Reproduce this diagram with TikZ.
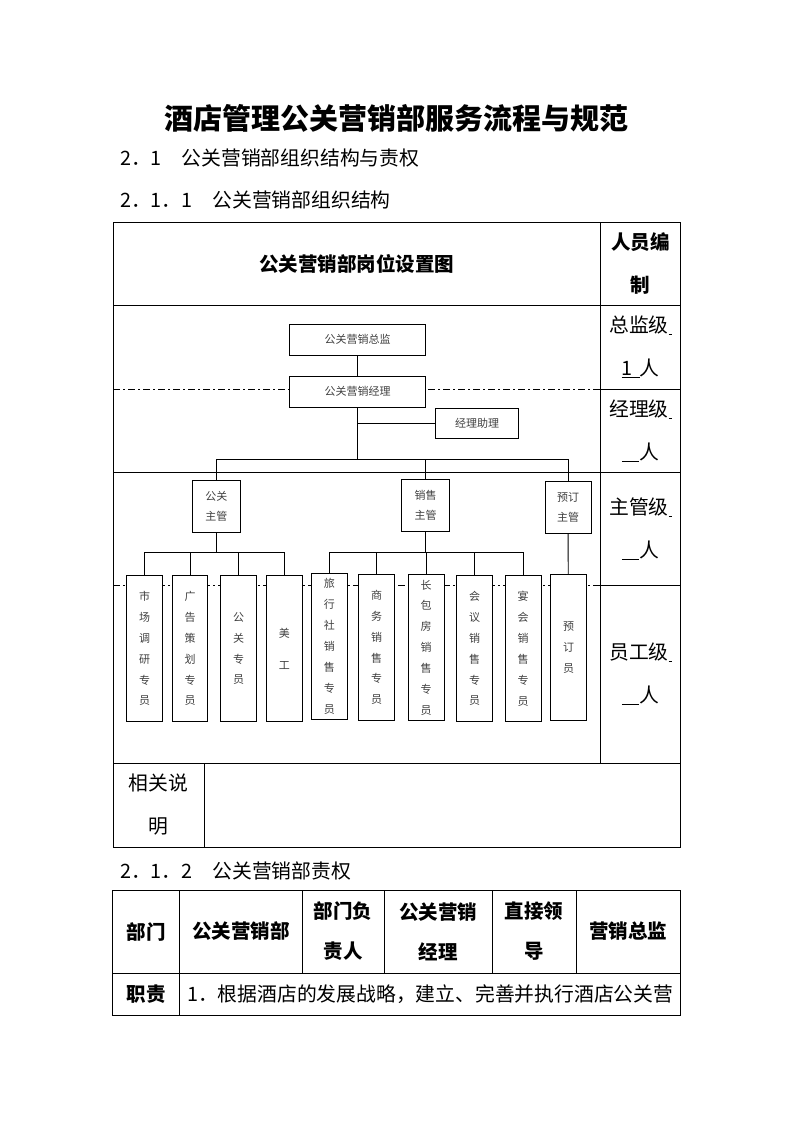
\documentclass[tikz,border=0pt]{standalone}
\usepackage{fontspec}
\setmainfont{Noto Sans CJK SC}

\begin{document}
\begin{tikzpicture}[x=1pt, y=-1pt]
    \tikzstyle{tableline} = [line width=1pt]
    \tikzstyle{levelline} = [line width=0.9pt, dash pattern=on 7pt off 3pt on 2pt off 3pt]
    \tikzstyle{line} = [line width=0.9pt]
    \tikzstyle{chartbox} = [rectangle, draw, fill=white, line width=0.9pt, inner sep=0pt, align=center, text=black!75, font=\fontsize{11}{20}\selectfont]
    \tikzstyle{staffbox} = [chartbox, minimum width=35.5pt, minimum height=146pt, font=\fontsize{11}{20.9}\selectfont]
    \tikzstyle{supbox} = [chartbox, minimum width=47.5pt, minimum height=51.7pt]
    \tikzstyle{bodytext} = [inner sep=0pt, align=center, font=\fontsize{19.8}{43}\selectfont]
    \tikzstyle{headtext} = [inner sep=0pt, align=center, font=\fontsize{19.5}{40}\selectfont\bfseries]

    \fill [white] (0,0) rectangle (793,1122);
    \useasboundingbox (0,0) rectangle (793,1122);

    % headings
    \node (title) [font=\fontsize{29}{34}\selectfont\bfseries] at (396,118) {酒店管理公关营销部服务流程与规范};
    \node (sec21) [bodytext, anchor=west] at (120,158) {2．1　公关营销部组织结构与责权};
    \node (sec211) [bodytext, anchor=west] at (120,200) {2．1．1　公关营销部组织结构};
    \node (sec212) [bodytext, anchor=west] at (120,871) {2．1．2　公关营销部责权};

    % org chart table
    \draw [tableline] (113,222) rectangle (680.3,847);
    \draw [tableline] (600.5,222) -- (600.5,763);
    \draw [tableline] (113,305) -- (680.3,305);
    \draw [tableline] (600.5,389.3) -- (680.3,389.3);
    \draw [tableline] (113,472.7) -- (680.3,472.7);
    \draw [tableline] (600.5,585.3) -- (680.3,585.3);
    \draw [tableline] (113,763) -- (680.3,763);
    \draw [tableline] (204.5,763) -- (204.5,847);
    \draw [levelline] (113,389.3) -- (600.5,389.3);
    \draw [levelline] (113,585.3) -- (600.5,585.3);

    \node (charthead) [headtext] at (356.5,263.5) {公关营销部岗位设置图};
    \node (counthead) [headtext, font=\fontsize{19.5}{43}\selectfont\bfseries] at (640.5,263.5) {人员编\\制};
    \node (dirlevel) [bodytext] at (640.5,347) {总监级\underline{\hspace{3pt}}\\\underline{1\hspace{7pt}}人};
    \node (mgrlevel) [bodytext] at (640.5,430.5) {经理级\underline{\hspace{3pt}}\\\underline{\hspace{17.5pt}}人};
    \node (suplevel) [bodytext] at (640.5,528.5) {主管级\underline{\hspace{3pt}}\\\underline{\hspace{17.5pt}}人};
    \node (stafflevel) [bodytext] at (640.5,674) {员工级\underline{\hspace{3pt}}\\\underline{\hspace{17.5pt}}人};
    \node (notes) [bodytext] at (158.5,805) {相关说\\明};

    % chart
    \coordinate (topbar) at (0,459.3);
    \coordinate (grpbar) at (0,552.7);

    \node (director) [chartbox, minimum width=136.7pt, minimum height=30.7pt] at (357.5,339.7) {公关营销总监};
    \node (manager) [chartbox, minimum width=136.7pt, minimum height=31.3pt] at (357.5,391.7) {公关营销经理};
    \node (assistant) [chartbox, minimum width=82.6pt, minimum height=30pt] at (477,423.3) {经理助理};

    \node (prsup) [supbox] at (216.3,506.5) {公关\\主管};
    \node (salessup) [supbox] at (425.5,505.2) {销售\\主管};
    \node (resvsup) [supbox, minimum width=46pt] at (568,507.5) {预订\\主管};

    \node (research) [staffbox] at (144.5,648.5) {市\\场\\调\\研\\专\\员};
    \node (advert) [staffbox] at (190,648.5) {广\\告\\策\\划\\专\\员};
    \node (prstaff) [staffbox] at (238.5,648.5) {公\\关\\专\\员};
    \node (artist) [staffbox] at (284.3,648.5) {美\\[11pt]工};
    \node (travel) [staffbox] at (329.3,646.3) {旅\\行\\社\\销\\售\\专\\员};
    \node (business) [staffbox] at (376.5,647.4) {商\\务\\销\\售\\专\\员};
    \node (longstay) [staffbox] at (426.2,647.6) {长\\包\\房\\销\\售\\专\\员};
    \node (meeting) [staffbox] at (474.5,648.5) {会\\议\\销\\售\\专\\员};
    \node (banquet) [staffbox] at (523.2,648.5) {宴\\会\\销\\售\\专\\员};
    \node (booking) [staffbox] at (568.5,647.4) {预\\订\\员};

    \draw [line] (director) -- (manager);
    \draw [line] (manager.south) -- (manager.south |- topbar);
    \draw [line] (manager.south |- assistant.west) -- (assistant.west);
    \draw [line] (prsup.north) |- (resvsup.north |- topbar) -- (resvsup.north);
    \draw [line] (salessup.north) -- (salessup.north |- topbar);

    \draw [line] (prsup.south) -- (prsup.south |- grpbar);
    \draw [line] (research.north) |- (artist.north |- grpbar) -- (artist.north);
    \draw [line] (advert.north) -- (advert.north |- grpbar);
    \draw [line] (prstaff.north) -- (prstaff.north |- grpbar);

    \draw [line] (salessup.south) -- (salessup.south |- grpbar);
    \draw [line] (travel.north) |- (banquet.north |- grpbar) -- (banquet.north);
    \draw [line] (business.north) -- (business.north |- grpbar);
    \draw [line] (longstay.north) -- (longstay.north |- grpbar);
    \draw [line] (meeting.north) -- (meeting.north |- grpbar);

    \draw [line] (resvsup) -- (booking);

    % duties table
    \draw [tableline] (112.5,890) rectangle (680,1015);
    \draw [tableline] (112.5,973) -- (680,973);
    \draw [tableline] (179.5,890) -- (179.5,1015);
    \draw [tableline] (302,890) -- (302,973);
    \draw [tableline] (384,890) -- (384,973);
    \draw [tableline] (492,890) -- (492,973);
    \draw [tableline] (576,890) -- (576,973);

    \node (deptlabel) [headtext] at (146,931.5) {部门};
    \node (deptname) [headtext] at (240.8,931.5) {公关营销部};
    \node (headlabel) [headtext] at (343,931.5) {部门负\\责人};
    \node (headname) [headtext] at (438,931.5) {公关营销\\经理};
    \node (bosslabel) [headtext] at (534,931.5) {直接领\\导};
    \node (bossname) [headtext] at (628,931.5) {营销总监};
    \node (dutylabel) [headtext] at (146,994) {职责};
    \node (dutytext) [bodytext, anchor=west] at (187,994) {1．根据酒店的发展战略，建立、完善并执行酒店公关营};
\end{tikzpicture}
\end{document}
